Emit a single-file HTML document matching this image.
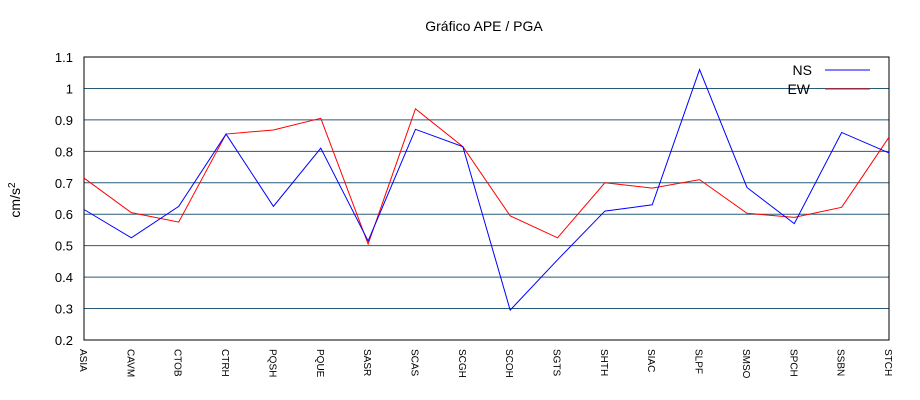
<!DOCTYPE html>
<html><head><meta charset="utf-8"><style>
body{margin:0;background:#fff}
svg{display:block;font-family:"Liberation Sans",sans-serif}
</style></head><body>
<svg id="chart" width="920" height="400">
<text x="484" y="31" font-size="14" text-anchor="middle">Gráfico  APE / PGA</text>
<text transform="translate(20,200) rotate(-90)" font-size="14" text-anchor="middle">cm/s<tspan dy="-5" font-size="10">2</tspan></text>
<g id="grid"></g>
<rect x="84" y="57" width="805" height="283" fill="none" stroke="#000" stroke-width="1"/>
<g id="series"></g>
<g>
<text x="812" y="75" font-size="14" text-anchor="end">NS</text>
<line x1="825" y1="70" x2="870" y2="70" stroke="#0000ff"/>
<text x="810" y="94" font-size="14" text-anchor="end">EW</text>
<line x1="825" y1="89" x2="870" y2="89" stroke="#ff0000"/>
</g>
</svg>
<script>
const categories=["ASIA","CAVM","CTOB","CTRH","PQSH","PQUE","SASR","SCAS","SCGH","SCOH","SGTS","SHTH","SIAC","SLPF","SMSO","SPCH","SSBN","STCH"];
const nsValues=[0.615,0.525,0.625,0.855,0.625,0.81,0.515,0.87,0.815,0.295,0.455,0.61,0.63,1.06,0.685,0.57,0.86,0.795];
const ewValues=[0.715,0.605,0.575,0.855,0.868,0.905,0.505,0.935,0.815,0.595,0.525,0.70,0.683,0.71,0.603,0.59,0.622,0.845];
const yTicks=[0.2,0.3,0.4,0.5,0.6,0.7,0.8,0.9,1,1.1];
const NS="http://www.w3.org/2000/svg";
const X0=84,X1=889,Y0=340,Y1=57,YMIN=0.2,YMAX=1.1;
function xs(i){return X0+i*(X1-X0)/(categories.length-1);}
function ys(v){return Y0-(v-YMIN)/(YMAX-YMIN)*(Y0-Y1);}
const grid=document.getElementById('grid');
const svg=document.getElementById('chart');
yTicks.forEach(t=>{
  const y=ys(t);
  if(t>YMIN&&t<YMAX){
    const l=document.createElementNS(NS,'line');
    l.setAttribute('x1',X0);l.setAttribute('x2',X1);l.setAttribute('y1',y);l.setAttribute('y2',y);
    l.setAttribute('stroke','#2a5a7a');
    
    
    grid.appendChild(l);
  }
  const tx=document.createElementNS(NS,'text');
  tx.setAttribute('x',73);tx.setAttribute('y',y+5);tx.setAttribute('font-size','13');tx.setAttribute('text-anchor','end');
  tx.textContent=String(t);
  
  
  grid.appendChild(tx);
});
categories.forEach((c,i)=>{
  const tx=document.createElementNS(NS,'text');
  const x=xs(i);
  tx.setAttribute('transform','translate('+(x-4)+',349) rotate(90)');
  tx.setAttribute('font-size','10');
  tx.textContent=c;
  
  
  grid.appendChild(tx);
});
const series=document.getElementById('series');
function line(vals,color,name){
  const p=document.createElementNS(NS,'polyline');
  p.setAttribute('points',vals.map((v,i)=>xs(i)+','+ys(v)).join(' '));
  p.setAttribute('fill','none');p.setAttribute('stroke',color);p.setAttribute('stroke-width','1');
  
  
  series.appendChild(p);
}
line(ewValues,'#ff0000','ew-series-line');
line(nsValues,'#0000ff','ns-series-line');
</script>
</body></html>
